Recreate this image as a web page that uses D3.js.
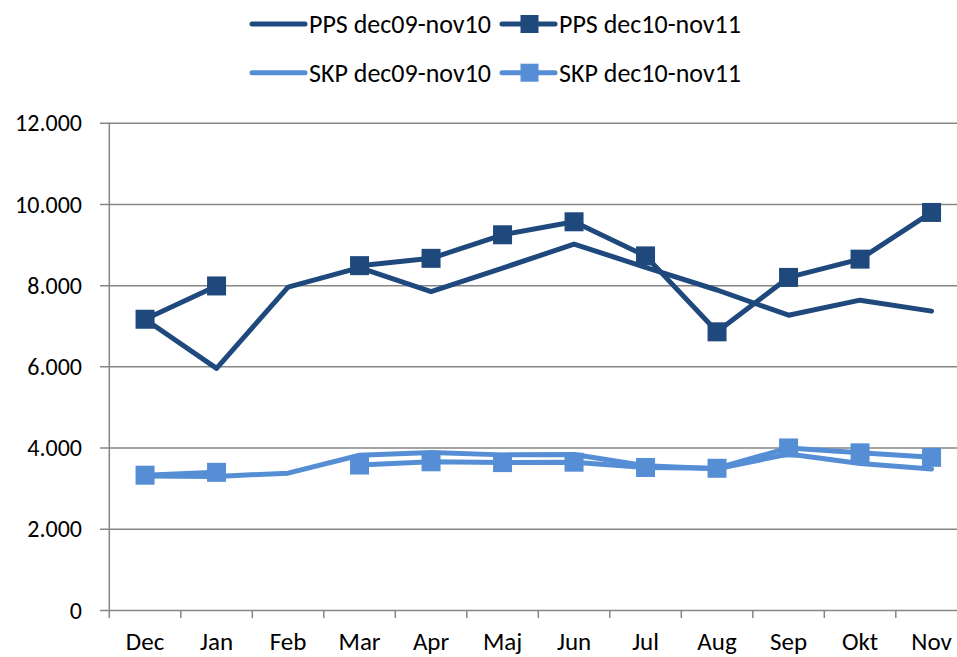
<!DOCTYPE html>
<html lang="da">
  <head>
    <meta charset="utf-8">
    <title>PPS / SKP</title>
    <script src="https://d3js.org/d3.v7.min.js"></script>
    <style>
    body { margin: 0; background: #fff; }
    svg text { font-family: Carlito, Calibri, Lato, sans-serif; font-size: 25px; fill: #000; }
    .grid text { font-size: 24px; }
    .legend text { font-size: 26px; }
    .grid line { stroke: #868686; stroke-width: 1.5px; }
    .axis path { display: none; }
    </style>
  </head>
  <body>
    <svg width="957" height="657" id="svg"></svg>
    <script>

    var months = ["Dec", "Jan", "Feb", "Mar", "Apr", "Maj", "Jun", "Jul", "Aug", "Sep", "Okt", "Nov"];
    var ppsPrev = [7160, 5950, 7950, 8430, 7840, 8420, 9010, 8440, 7880, 7260, 7630, 7360];
    var ppsCur  = [7160, 7980, null, 8480, 8660, 9240, 9560, 8720, 6850, 8190, 8640, 9790];
    var skpPrev = [3300, 3290, 3370, 3810, 3880, 3820, 3830, 3550, 3480, 3840, 3610, 3470];
    var skpCur  = [3320, 3390, null, 3570, 3650, 3630, 3640, 3510, 3490, 3990, 3870, 3760];
    var yTicks = [0, 2000, 4000, 6000, 8000, 10000, 12000];

    var series = [
      {name: "PPS dec09-nov10", values: ppsPrev, color: "#1F497D", marker: false},
      {name: "PPS dec10-nov11", values: ppsCur,  color: "#1F497D", marker: true},
      {name: "SKP dec09-nov10", values: skpPrev, color: "#558ED5", marker: false},
      {name: "SKP dec10-nov11", values: skpCur,  color: "#558ED5", marker: true}
    ];

    var svg = d3.select("svg"),
        plotLeft = 109.3, plotBottom = 610, plotTop = 122.7, step = 71.5;

    var x = d3.scaleBand().domain(months).range([plotLeft, plotLeft + step * months.length]),
        y = d3.scaleLinear().domain([0, 12000]).range([plotBottom, plotTop]);

    var fmt = d3.formatLocale({decimal: ",", thousands: ".", grouping: [3], currency: ["", ""]}).format(",");

    // y gridlines + labels
    svg.append("g")
        .attr("class", "axis grid")
        .attr("transform", "translate(100,0)")
        .call(d3.axisLeft(y).tickValues(yTicks).tickSize(-857).tickPadding(18).tickFormat(fmt))
        .selectAll("text").attr("dy", "0.34em");

    // y axis line
    svg.append("line")
        .attr("x1", plotLeft).attr("x2", plotLeft)
        .attr("y1", plotTop).attr("y2", plotBottom + 8)
        .attr("stroke", "#868686").attr("stroke-width", 1.5);

    // x labels
    svg.append("g")
        .attr("class", "axis")
        .attr("transform", "translate(0," + plotBottom + ")")
        .call(d3.axisBottom(x).tickSize(0).tickPadding(22))
        .selectAll("text").attr("dy", "0.71em");

    // x tick marks between categories
    svg.append("g").selectAll("line")
        .data(months.slice(1))
        .enter().append("line")
          .attr("x1", function(d) { return x(d); })
          .attr("x2", function(d) { return x(d); })
          .attr("y1", plotBottom).attr("y2", plotBottom + 8)
          .attr("stroke", "#868686").attr("stroke-width", 1.5);

    var line = d3.line()
        .defined(function(d) { return d != null; })
        .x(function(d, i) { return x(months[i]) + x.bandwidth() / 2; })
        .y(function(d) { return y(d); });

    series.forEach(function(s) {
      svg.append("path")
          .datum(s.values)
          .attr("fill", "none")
          .attr("stroke", s.color)
          .attr("stroke-width", 5)
          .attr("stroke-linejoin", "round")
          .attr("stroke-linecap", "round")
          .attr("d", line);
      if (s.marker) {
        svg.append("g").selectAll("rect")
          .data(s.values.map(function(v, i) { return {v: v, m: months[i]}; }).filter(function(d) { return d.v != null; }))
          .enter().append("rect")
            .attr("x", function(d) { return x(d.m) + x.bandwidth() / 2 - 9.5; })
            .attr("y", function(d) { return y(d.v) - 9.5; })
            .attr("width", 19).attr("height", 19)
            .attr("fill", s.color);
      }
    });

    // legend
    var legendPos = [[252, 24], [502, 24], [252, 72.7], [502, 72.7]];
    series.forEach(function(s, i) {
      var g = svg.append("g").attr("class", "legend")
          .attr("transform", "translate(" + legendPos[i][0] + "," + legendPos[i][1] + ")");
      g.append("line").attr("x1", 0).attr("x2", 53).attr("y1", 0).attr("y2", 0)
        .attr("stroke", s.color).attr("stroke-width", 5).attr("stroke-linecap", "round");
      if (s.marker) {
        g.append("rect").attr("x", 27.5 - 9).attr("y", -9).attr("width", 18).attr("height", 18).attr("fill", s.color);
      }
      g.append("text").attr("x", 57).attr("dy", "0.35em").text(s.name);
    });

    </script>
  </body>
</html>
